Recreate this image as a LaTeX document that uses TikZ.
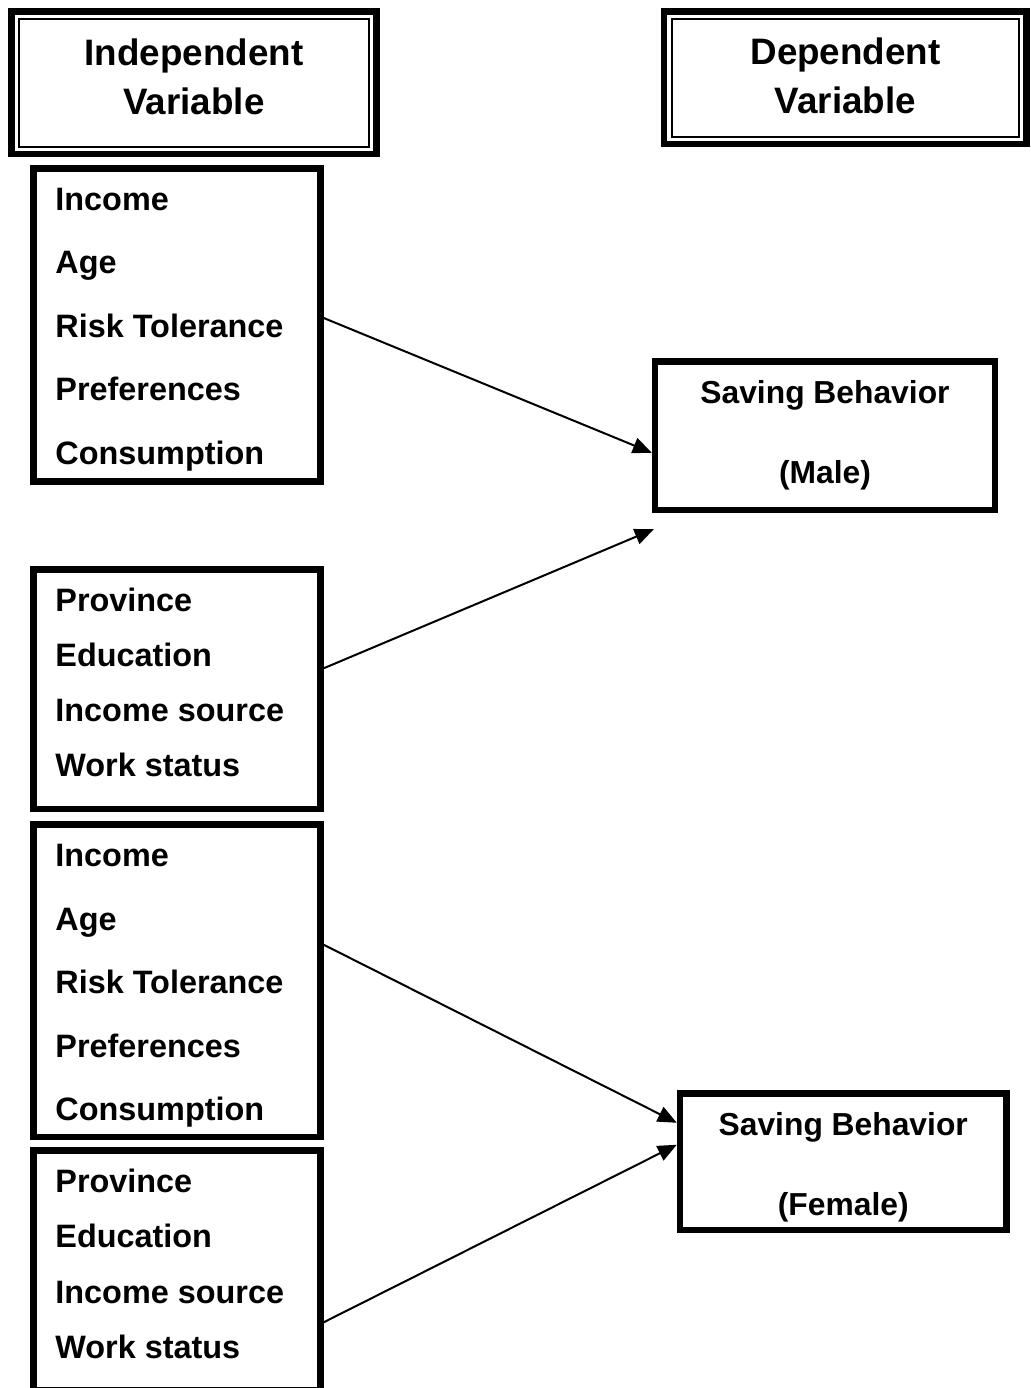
\documentclass[tikz,border=0pt]{standalone}
\usepackage{fontspec}
\setmainfont{Liberation Sans}
\usetikzlibrary{arrows.meta, positioning, calc}

\begin{document}
\begin{tikzpicture}[x=0.5pt, y=-0.5pt,
        head/.style={rectangle, draw, line width=3.4pt,
            path picture={\draw[line width=1pt] ([shift={(3.75pt,-3.75pt)}]path picture bounding box.north west) rectangle ([shift={(-3.75pt,3.75pt)}]path picture bounding box.south east);}},
        headtext/.style={align=center, inner sep=0pt, font=\fontsize{18.4}{24.5}\selectfont\bfseries},
        varbox/.style={rectangle, draw, line width=3.25pt, minimum width=143.5pt},
        item/.style={anchor=base west, inner sep=0pt, font=\fontsize{16.2}{19}\selectfont\bfseries},
        depbox/.style={rectangle, draw, line width=3.2pt, align=center, inner sep=0pt, font=\fontsize{15.9}{40}\selectfont\bfseries},
        link/.style={-{Triangle[length=9.5pt, width=8pt]}, line width=1pt}]

        \useasboundingbox (0,0) rectangle (1031,1388);

        % Cabeceras
        \node[head, minimum width=182.5pt, minimum height=71.25pt] (hIV) at (194,82.75) {};
        \node[headtext] (hIVtext) at (194,76.4) {Independent\\Variable};
        \node[head, minimum width=181.25pt, minimum height=66.25pt] (hDV) at (845.25,77.75) {};
        \node[headtext] (hDVtext) at (845.5,75.6) {Dependent\\Variable};

        % Variables independientes
        \node[varbox, minimum height=156.5pt] (ivA) at (177,325) {};
        \node[varbox, minimum height=119.75pt] (ivB) at (177,689.25) {};
        \node[varbox, minimum height=156.25pt] (ivC) at (177,980.75) {};
        \node[varbox, minimum height=119.75pt] (ivD) at (177,1270.25) {};

        \foreach \txt [count=\i] in {Income, Age, Risk Tolerance, Preferences, Consumption}
            \node[item] (a\i) at (55,{210+63.5*(\i-1)}) {\txt};
        \foreach \txt [count=\i] in {Province, Education, Income source, Work status}
            \node[item] (b\i) at (55,{611.5+55*(\i-1)}) {\txt};
        \foreach \txt [count=\i] in {Income, Age, Risk Tolerance, Preferences, Consumption}
            \node[item] (c\i) at (55,{866.5+63.5*(\i-1)}) {\txt};
        \foreach \txt [count=\i] in {Province, Education, Income source, Work status}
            \node[item] (d\i) at (55,{1192.5+55.3*(\i-1)}) {\txt};

        % Variables dependientes
        \node[depbox, minimum width=170pt, minimum height=74.25pt] (dvM) at (825,435.75) {Saving Behavior\\(Male)};
        \node[depbox, minimum width=163.25pt, minimum height=68.25pt] (dvF) at (843.25,1161.75) {\rule{0pt}{17pt}Saving Behavior\\(Female)};

        \coordinate (mEnd) at ($(dvM.south west)+(2,16)$);

        \draw[link] ($(ivA.east)+(0,-7)$) -- ($(dvM.west)+(0,17)$);
        \draw[link] ($(ivB.east)+(0,-21)$) -- (mEnd);
        \draw[link] ($(ivC.east)+(0,-36)$) -- ($(dvF.west)+(0,-39)$);
        \draw[link] ($(ivD.east)+(0,52)$) -- ($(dvF.west)+(0,-17)$);
    \end{tikzpicture}
\end{document}
